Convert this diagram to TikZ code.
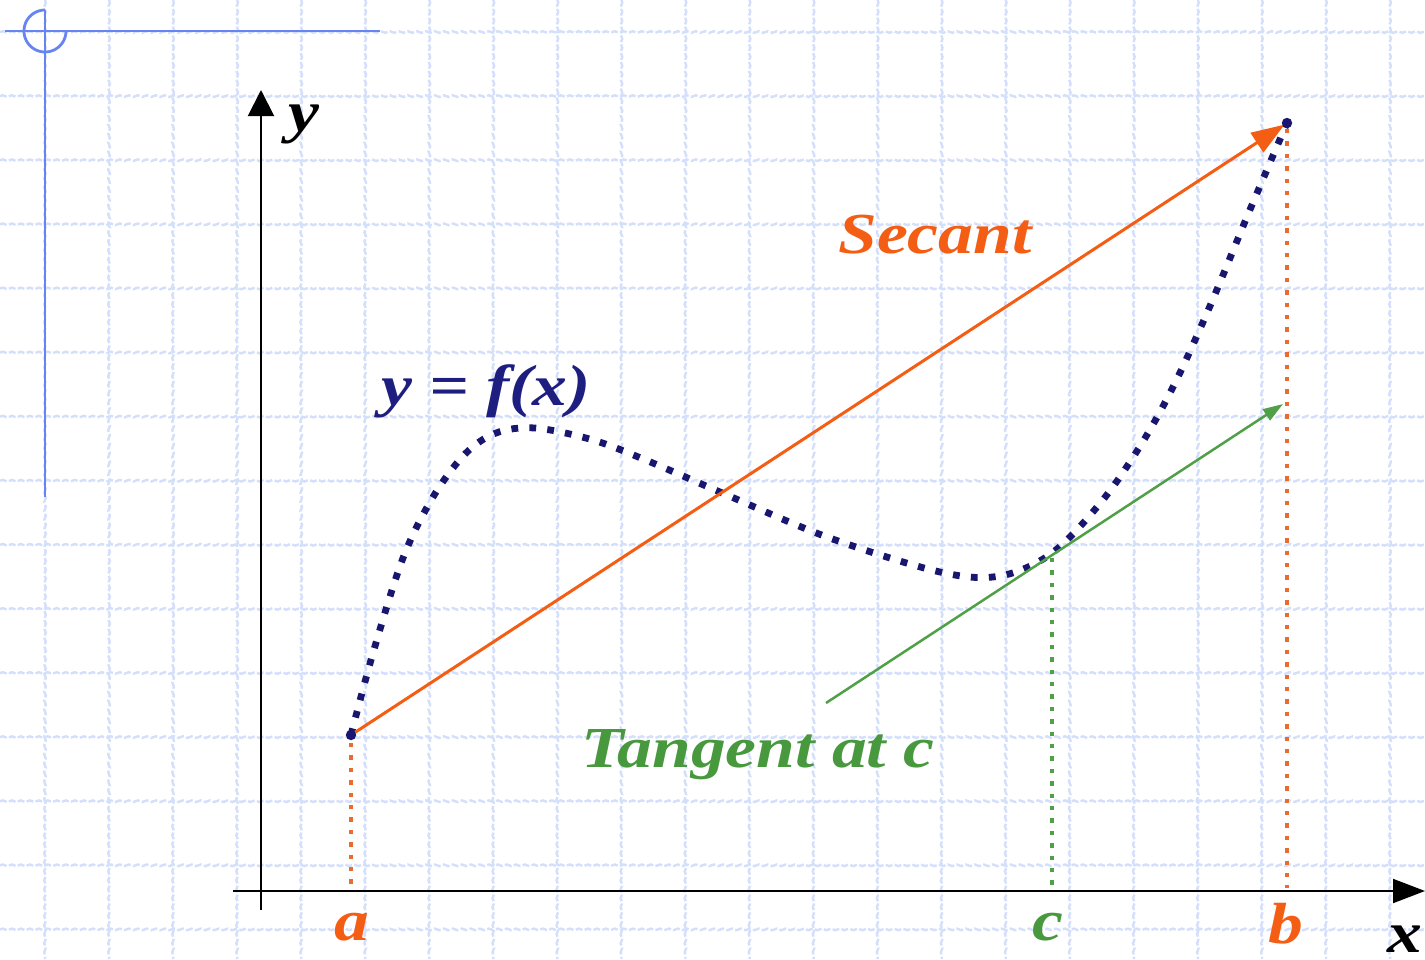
\documentclass[tikz,border=0pt]{standalone}
\usepackage{fontspec}
\setmainfont{Liberation Serif}
\newfontfamily\labfont[FakeStretch=1.2]{Liberation Serif}
\usetikzlibrary{arrows.meta,decorations.pathmorphing}
\definecolor{gridblue}{RGB}{212,223,252}
\definecolor{frameblue}{RGB}{104,132,240}
\definecolor{secorange}{RGB}{244,94,20}
\definecolor{dotorange}{RGB}{232,108,50}
\definecolor{tangreen}{RGB}{80,160,72}
\definecolor{labgreen}{RGB}{72,152,62}
\definecolor{curvenavy}{RGB}{24,22,110}
\definecolor{labnavy}{RGB}{30,30,128}
\begin{document}
\begin{tikzpicture}[x=0.5pt,y=-0.5pt,
  gridline/.style={draw=gridblue,line width=1.2pt,dash pattern=on 3.5pt off 1.2pt,decorate,decoration={snake,amplitude=0.4pt,segment length=4.5pt}},
  framestyle/.style={draw=frameblue,line width=1.4pt},
  axisline/.style={draw=black,line width=1pt},
  secantline/.style={draw=secorange,line width=1.5pt,-{Triangle[length=16.5pt,width=11.5pt]},shorten >=1.5pt},
  tangentline/.style={draw=tangreen,line width=1.25pt,-{Triangle[length=10pt,width=6.5pt]}},
  curvestyle/.style={draw=curvenavy,line width=3.4pt,dash pattern=on 3.4pt off 5.6pt},
  dotorangestyle/.style={draw=dotorange,line width=2.2pt,dash pattern=on 2.2pt off 4pt},
  dotgreenstyle/.style={draw=tangreen,line width=2.2pt,dash pattern=on 2.2pt off 4pt},
  lab/.style={inner sep=0pt,anchor=base,font=\labfont\bfseries\itshape\fontsize{29pt}{34pt}\selectfont}
]
\useasboundingbox (0,0) rectangle (1425,959);
\fill[white] (0,0) rectangle (1425,959);
% grid
\foreach \k in {0,...,21} \draw[gridline] ({45+64.05*\k},0) -- ({45+64.05*\k},959);
\foreach \k in {0,...,14} \draw[gridline] (0,{32+64.1*\k}) -- (1425,{32+64.1*\k});
% frame mark
\coordinate (fl) at (5,31);
\coordinate (fr) at (380,31);
\coordinate (ft) at (45,10);
\coordinate (fb) at (45,497);
\draw[framestyle] (fl) -- (fr);
\draw[framestyle] (ft) -- (fb);
\draw[framestyle] plot[domain=90:360,samples=50] ({45+21*cos(\x)},{31-21*sin(\x)});
% points
\coordinate (A) at (351,735);
\coordinate (B) at (1287,123);
\coordinate (aFoot) at (351,888);
\coordinate (bFoot) at (1287,888);
\coordinate (cTop) at (1052,558);
\coordinate (cFoot) at (1052,888);
\coordinate (T1) at (826,703);
\coordinate (T2) at (1283,404);
% axes
\coordinate (yb) at (261,910);
\coordinate (yt) at (261,90);
\coordinate (xl) at (233,891);
\coordinate (xr) at (1425,891);
\draw[axisline,-{Triangle[length=13pt,width=13pt]}] (yb) -- (yt);
\draw[axisline,-{Triangle[length=16pt,width=12pt]}] (xl) -- (xr);
% dotted verticals
\draw[dotorangestyle,shorten <=4pt] (A) -- (aFoot);
\draw[dotorangestyle,shorten <=3pt] (B) -- (bFoot);
\draw[dotgreenstyle] (cTop) -- (cFoot);
% curve
\draw[curvestyle] plot[smooth,tension=0.55] coordinates {(351,735) (373,653) (403,558) (433,497) (465,454) (496,433) (535,428) (593,440) (648,461) (720,492) (827,537) (940,572) (1000,576) (1052,553) (1102,501) (1142,443) (1175,383) (1210,306) (1249,212) (1287,123)};
% secant and tangent
\draw[secantline] (A) -- (B);
\draw[tangentline] (T1) -- (T2);
\fill[curvenavy] (A) circle[radius=2.6pt];
\fill[curvenavy] (B) circle[radius=2.6pt];
% labels
\node[lab,text=black] (ylab) at (304,131) {y};
\node[lab,text=black] (xlab) at (1405,952) {x};
\node[lab,text=secorange] (alab) at (352,940) {a};
\node[lab,text=labgreen] (clab) at (1048,940) {c};
\node[lab,text=secorange] (blab) at (1286,943) {b};
\node[lab,text=secorange] (seclab) at (935,253) {Secant};
\node[lab,text=labgreen] (tanlab) at (758,767) {Tangent at c};
\node[lab,text=labnavy] (flab) at (486,405) {y = f(x)};
\end{tikzpicture}
\end{document}
